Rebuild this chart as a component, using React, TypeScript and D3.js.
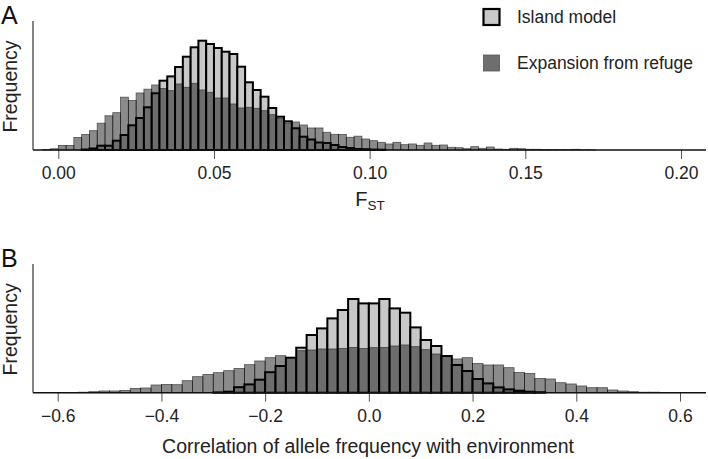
import React, { useEffect, useRef } from "react";
import * as d3 from "d3";

// Panel A: F_ST histograms (bin width 0.0025)
const fstExpansionStart = -0.005;
const fstIslandStart = 0;
const fstBinWidth = 0.0025;
const fstExpansion = [
  0.5, 1.2, 4.6, 4.6, 12.6, 15.6, 19.3, 26.8, 34.2, 37.3, 52.8, 49.6, 57, 60.8,
  65, 61.4, 59.3, 66, 62.7, 66.7, 60, 57.7, 52, 52, 46, 42, 42.7, 41.7, 39.3,
  35.3, 31.5, 27, 28, 25, 22, 22, 17.7, 15.7, 15.5, 12.7, 13.8, 11, 9.3, 7.7, 6,
  7.7, 5.3, 6, 4.7, 7, 4.7, 5, 2.7, 2.3, 1.3, 3.3, 1.7, 3, 1, 0.7, 1.7, 1.3, 0.7,
  0.7, 0.5, 0.4, 0.3, 0.3, 0.7, 0.2, 0.2,
];
const fstIsland = [
  0, 0, 0, 0.5, 1.5, 4.3, 4.3, 9.3, 15, 24.7, 32, 42.7, 56.7, 69.3, 73.6, 83,
  93.3, 102.7, 109.3, 106, 102, 98.3, 96, 83.3, 67.7, 60, 53.3, 42, 33.3, 28.7,
  21.7, 13.3, 10.5, 7.5, 7, 5, 3, 2, 1, 0.8, 0.4, 0.3,
];
const fstTicks = [0, 0.05, 0.1, 0.15, 0.2];

// Panel B: correlation with environment (bin width 0.02)
const corStart = -0.6;
const corBinWidth = 0.02;
const corExpansion = [
  0.3, 0.3, 0.5, 1, 1.7, 1.7, 2.3, 4.3, 4.7, 7.7, 8.3, 8, 12, 16, 18.3, 20, 22,
  24.3, 28, 31.7, 35, 37, 35, 42, 42.7, 43.7, 43.7, 44.3, 45.3, 44.3, 45, 45.3,
  46.7, 47.7, 46, 43, 38.7, 36, 33.7, 35, 29.3, 27.7, 27.7, 25, 20.3, 19.3, 14.3,
  13.7, 10, 8.7, 6.7, 5, 5, 2.7, 1.7, 1, 0.5, 0.5, 0.2, 0.2,
];
const corIsland = [
  0, 0, 0, 0, 0, 0, 0, 0, 0, 0, 0, 0, 0, 0, 0, 0.3, 1, 5.5, 8.3, 13, 20.5, 26.7,
  35, 45, 57.7, 64.3, 74.3, 82.7, 93.7, 89.3, 89.3, 93.7, 84.3, 80, 65.3, 52.7,
  46.7, 36.7, 27.7, 21.7, 13.7, 9.3, 5.3, 3.3, 2, 1, 0.5, 0, 0, 0, 0, 0, 0, 0, 0,
  0, 0, 0, 0, 0,
];
const corTicks = [-0.6, -0.4, -0.2, 0, 0.2, 0.4, 0.6];

const seriesNames = ["Island model", "Expansion from refuge"];

const LIGHT = "#c8c8c8";
const MEDIUM = "#8b8b8b";
const FONT = "'Liberation Sans', Arial, sans-serif";

type Bin = { x0: number; x1: number; v: number };

const toBins = (values: number[], start: number, width: number): Bin[] =>
  values.map((v, i) => ({ x0: start + i * width, x1: start + (i + 1) * width, v }));

interface PanelOpts {
  letter: string;
  top: number;
  base: number;
  yMax: number;
  xDomain: [number, number];
  xRange: [number, number];
  ticks: number[];
  fmt: (d: number) => string;
  island: Bin[];
  expansion: Bin[];
}

const App: React.FC = () => {
  const svgRef = useRef<SVGSVGElement | null>(null);

  useEffect(() => {
    const width = 708;
    const height = 459;
    const axisLeft = 33;
    const axisRight = 706;

    const svg = d3
      .select(svgRef.current)
      .attr("width", width)
      .attr("height", height);
    svg.selectAll("*").remove();

    const drawPanel = (o: PanelOpts) => {
      const x = d3.scaleLinear().domain(o.xDomain).range(o.xRange);
      const y = d3.scaleLinear().domain([0, o.yMax]).range([o.base, o.top]);
      const g = svg.append("g").style("isolation", "isolate");

      // Island model bars (light, thick outline)
      g.append("g")
        .selectAll("rect")
        .data(o.island.filter((d) => d.v > 0))
        .enter()
        .append("rect")
        .attr("x", (d) => x(d.x0))
        .attr("width", (d) => x(d.x1) - x(d.x0))
        .attr("y", (d) => y(d.v))
        .attr("height", (d) => o.base - y(d.v))
        .attr("fill", LIGHT)
        .attr("stroke", "#000")
        .attr("stroke-width", 2);

      // Expansion bars, multiplied over the island bars
      g.append("g")
        .selectAll("rect")
        .data(o.expansion.filter((d) => d.v > 0))
        .enter()
        .append("rect")
        .attr("x", (d) => x(d.x0))
        .attr("width", (d) => x(d.x1) - x(d.x0))
        .attr("y", (d) => y(d.v))
        .attr("height", (d) => o.base - y(d.v))
        .attr("fill", MEDIUM)
        .attr("stroke", "#505050")
        .attr("stroke-width", 0.8)
        .style("mix-blend-mode", "multiply");

      // x axis
      const xAxis = svg
        .append("g")
        .attr("transform", `translate(0,${o.base})`)
        .call(
          d3
            .axisBottom(x)
            .tickValues(o.ticks)
            .tickSize(9)
            .tickSizeOuter(0)
            .tickPadding(8)
            .tickFormat((d) => o.fmt(d as number))
        );
      xAxis.select(".domain").remove();
      xAxis.selectAll("line").attr("stroke", "#555").attr("stroke-width", 1);
      xAxis
        .selectAll("text")
        .style("font-family", FONT)
        .style("font-size", "17.5px")
        .style("fill", "#222");

      svg
        .append("line")
        .attr("x1", axisLeft)
        .attr("x2", axisRight)
        .attr("y1", o.base)
        .attr("y2", o.base)
        .attr("stroke", "#111")
        .attr("stroke-width", 1.4);

      // y axis line
      svg
        .append("line")
        .attr("x1", axisLeft)
        .attr("x2", axisLeft)
        .attr("y1", o.top)
        .attr("y2", o.base)
        .attr("stroke", "#333")
        .attr("stroke-width", 1.2);

      // y label
      svg
        .append("text")
        .attr("transform", `translate(17,${(o.top + o.base) / 2 + 1}) rotate(-90)`)
        .attr("text-anchor", "middle")
        .style("font-family", FONT)
        .style("font-size", "19.5px")
        .style("fill", "#222")
        .text("Frequency");

      // panel letter
      svg
        .append("text")
        .attr("x", 1)
        .attr("y", o.top + 3)
        .style("font-family", FONT)
        .style("font-size", "25px")
        .style("fill", "#111")
        .text(o.letter);
    };

    drawPanel({
      letter: "A",
      top: 21,
      base: 150,
      yMax: 129,
      xDomain: [0, 0.2],
      xRange: [58.3, 681],
      ticks: fstTicks,
      fmt: d3.format(".2f"),
      island: toBins(fstIsland, fstIslandStart, fstBinWidth),
      expansion: toBins(fstExpansion, fstExpansionStart, fstBinWidth),
    });

    drawPanel({
      letter: "B",
      top: 264,
      base: 392.7,
      yMax: 128.7,
      xDomain: [-0.6, 0.6],
      xRange: [57.7, 680],
      ticks: corTicks,
      fmt: d3.format(".1f"),
      island: toBins(corIsland, corStart, corBinWidth),
      expansion: toBins(corExpansion, corStart, corBinWidth),
    });

    // F_ST label
    const fst = svg
      .append("text")
      .attr("x", 370)
      .attr("y", 206)
      .attr("text-anchor", "middle")
      .style("font-family", FONT)
      .style("font-size", "20px")
      .style("fill", "#222");
    fst.append("tspan").text("F");
    fst
      .append("tspan")
      .attr("dy", 4)
      .style("font-size", "13.5px")
      .text("ST");

    // B x label
    svg
      .append("text")
      .attr("x", 368)
      .attr("y", 453)
      .attr("text-anchor", "middle")
      .style("font-family", FONT)
      .style("font-size", "19.5px")
      .style("fill", "#222")
      .text("Correlation of allele frequency with environment");

    // Legend
    const legend = svg.append("g");
    const legendRows = [
      { name: seriesNames[0], y: 9, fill: LIGHT, stroke: "#000", sw: 2.2 },
      { name: seriesNames[1], y: 55, fill: "#6e6e6e", stroke: "#555", sw: 0.8 },
    ];
    legendRows.forEach((r) => {
      legend
        .append("rect")
        .attr("x", 483.5)
        .attr("y", r.y)
        .attr("width", 16)
        .attr("height", 16)
        .attr("fill", r.fill)
        .attr("stroke", r.stroke)
        .attr("stroke-width", r.sw);
      legend
        .append("text")
        .attr("x", 517)
        .attr("y", r.y + 14)
        .style("font-family", FONT)
        .style("font-size", "17.5px")
        .style("fill", "#222")
        .text(r.name);
    });
  }, []);

  return (
    <svg
      ref={svgRef}
      style={{ position: "absolute", left: 0, top: 0, display: "block" }}
    ></svg>
  );
};

export default App;
